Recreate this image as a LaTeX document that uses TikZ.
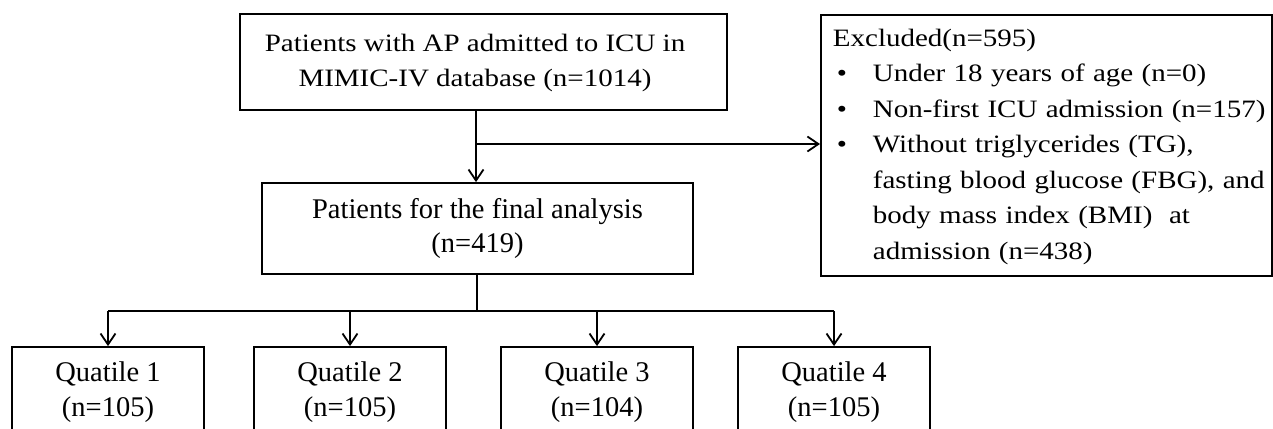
\documentclass[tikz,border=0pt]{standalone}
\usepackage{fontspec}
\setmainfont{Liberation Serif}
\newfontfamily\widefont{Liberation Serif}[FakeStretch=1.16]
\usetikzlibrary{arrows.meta}
\begin{document}
\begin{tikzpicture}[x=1pt,y=-1pt,
  box/.style={draw, line width=1.8pt, inner sep=0pt, align=center},
  conn/.style={line width=1.8pt},
  arr/.style={conn, -{Straight Barb[length=11pt,width=15pt,line width=1.8pt]}},
  bigtxt/.style={font=\fontsize{28.5}{34.5}\selectfont},
  widetxt/.style={font=\widefont\fontsize{25}{35.5}\selectfont}]
\useasboundingbox (0,0) rectangle (1273,428);
\clip (0,0) rectangle (1273,428);
\node[box, widetxt, minimum width=487pt, minimum height=96pt] (top) at (483.5,62)
  {\raisebox{2pt}{\begin{tabular}{@{}c@{}}Patients with AP admitted to ICU in\\MIMIC-IV database (n=1014)\end{tabular}}\hspace{17pt}};
\node[box, bigtxt, minimum width=431pt, minimum height=91pt] (final) at (477.5,228.5)
  {Patients for the final analysis\\(n=419)};
\node[draw, line width=1.8pt, widetxt, anchor=north west, text width=427pt,
      inner xsep=12pt, inner ysep=0pt, minimum height=261pt, align=left] (excl) at (820,14)
  {\noindent\begin{tabular}{@{}p{40pt}@{}l@{}}
   \multicolumn{2}{@{}l@{}}{Excluded(n=595)}\\
   \hspace*{4pt}\textbullet & Under 18 years of age (n=0)\\
   \hspace*{4pt}\textbullet & Non-first ICU admission (n=157)\\
   \hspace*{4pt}\textbullet & Without triglycerides (TG),\\
   & fasting blood glucose (FBG), and\\
   & body mass index (BMI)\ \ at\\
   & admission (n=438)
   \end{tabular}};
\foreach \i/\x/\n in {1/108/105, 2/350/105, 3/597/104, 4/834/105}
  \node[box, bigtxt, minimum width=192pt, minimum height=90pt] (q\i) at (\x,392)
    {Quatile \i\\(n=\n)};
\coordinate (split) at (476,144);
\draw[conn] (top.south -| split) -- (split);
\draw[arr] (split) -- (final.north -| split);
\draw[arr] (split) -- (excl.west |- split);
\coordinate (bar) at (477,311);
\draw[conn] (final.south -| bar) -- (bar);
\draw[conn] (q1.north |- bar) -- (q4.north |- bar);
\foreach \i in {1,...,4}
  \draw[arr] (q\i.north |- bar) -- (q\i.north);
\end{tikzpicture}
\end{document}
